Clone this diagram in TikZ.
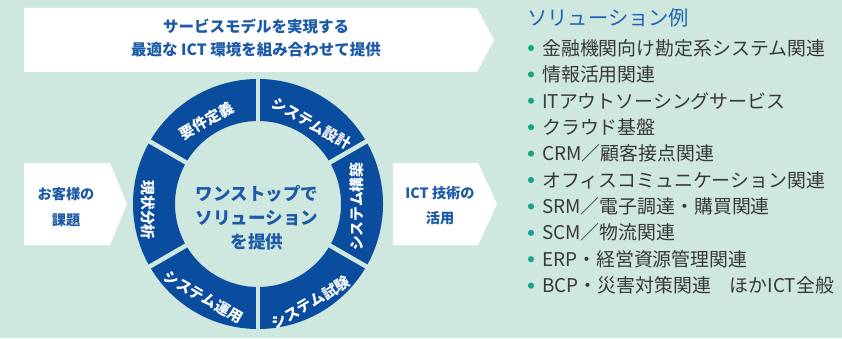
\documentclass[tikz,border=0pt]{standalone}
\usepackage{fontspec}
\newfontfamily\jp{Noto Sans CJK JP}
\definecolor{bg}{HTML}{CFE8DF}
\definecolor{ringblue}{HTML}{0A4C9E}
\definecolor{txtblue}{HTML}{1C5AA8}
\definecolor{titleblue}{HTML}{1F63B0}
\definecolor{teal}{HTML}{16A585}
\definecolor{listgray}{HTML}{383838}
\begin{document}
\begin{tikzpicture}[x=1pt,y=1pt,
  bannertext/.style={text=txtblue, align=center, inner sep=0pt,
    font={\jp\bfseries\fontsize{15.5}{23.5}\selectfont}},
  boxtext/.style={text=txtblue, align=center, inner sep=0pt,
    font={\jp\bfseries\fontsize{14.2}{25.5}\selectfont}},
  centertext/.style={text=txtblue, align=center, inner sep=0pt,
    font={\jp\bfseries\fontsize{17.5}{24}\selectfont}},
  segtext/.style={text=white, inner sep=0pt,
    font={\jp\bfseries\fontsize{14.8}{16}\selectfont}},
  gapline/.style={draw=bg, line width=4.5pt},
  titletext/.style={text=titleblue, anchor=west, inner sep=0pt,
    font={\jp\fontsize{20.3}{22}\selectfont}},
  itemtext/.style={text=listgray, anchor=west, inner sep=0pt,
    font={\jp\fontsize{18.9}{20}\selectfont}},
  bulletdot/.style={circle, fill=teal, inner sep=0pt, minimum size=6.2pt}
]
\fill[bg] (0,0) rectangle (842,338);
\useasboundingbox (0,0) rectangle (842,338);

% top banner arrow
\fill[white] (24,330) -- (477,330) -- (494,298) -- (477,266) -- (24,266) -- cycle;
\node[bannertext] (banner) at (256,300.2) {サービスモデルを実現する\\最適な ICT 環境を組み合わせて提供};

% left box
\fill[white] (24,175) -- (110,175) -- (127,134) -- (110,93) -- (24,93) -- cycle;
\node[boxtext] (issue) at (66,131) {お客様の\\課題};

% right box
\fill[white] (393,175) -- (478,175) -- (497,134) -- (478,93) -- (393,93) -- cycle;
\node[boxtext] (ict) at (440,132.5) {ICT 技術の\\活用};

% ring
\coordinate (c) at (258,134);
\fill[ringblue, even odd rule] (c) circle (125pt) (c) circle (83pt);
\foreach \a in {90,30,-30,-90,150,210}
  \draw[gapline] (c) ++(\a:78pt) -- ++(\a:52pt);

\node[segtext, rotate=30]  (s1) at (206.7,217.3) {要件定義};
\node[segtext, rotate=-30] (s2) at (311.7,214.7) {システム設計};
\node[segtext, rotate=90]  (s3) at (356.7,131.3) {システム構築};
\node[segtext, rotate=30]  (s4) at (310.7,35.3) {システム試験};
\node[segtext, rotate=-30] (s5) at (203.3,40.7) {システム運用};
\node[segtext, rotate=-90] (s6) at (148,128) {現状分析};

\node[centertext] (center) at (257,120) {ワンストップで\\ソリューション\\を提供};

% solution list
\node[titletext] (title) at (527,320) {ソリューション例};
\foreach \t [count=\i from 0] in {金融機関向け勘定系システム関連,情報活用関連,ITアウトソーシングサービス,クラウド基盤,CRM／顧客接点関連,オフィスコミュニケーション関連,SRM／電子調達・購買関連,SCM／物流関連,ERP・経営資源管理関連,BCP・災害対策関連　ほかICT全般}{
  \node[bulletdot] (b\i) at (531,{290-26.4*\i}) {};
  \node[itemtext] (item\i) at (542,{290-26.4*\i}) {\t};
}
\end{tikzpicture}
\end{document}
